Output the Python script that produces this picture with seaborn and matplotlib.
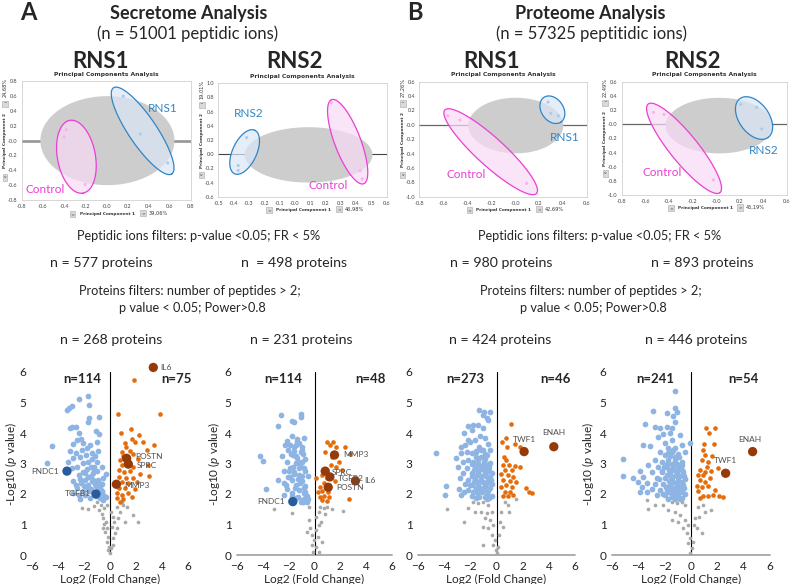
import numpy as np
import pandas as pd
import matplotlib
matplotlib.use('Agg')
import matplotlib.pyplot as plt
import seaborn as sns

sns.set_style('white')
plt.rcParams['font.family'] = ['Lato', 'DejaVu Sans']
plt.rcParams['mathtext.fontset'] = 'custom'
plt.rcParams['mathtext.rm'] = 'Lato'
plt.rcParams['mathtext.it'] = 'Lato:italic'

W, H = 793, 584

# ---------------- PCA data (PC1, PC2) ----------------
a1_pca_case = [(0.16, 0.60), (0.32, 0.09), (0.58, -0.30)]
a1_pca_ctrl = [(-0.38, 0.15), (-0.40, 0.05), (-0.20, -0.59)]
a2_pca_case = [(-0.315, 0.233), (-0.37, -0.16), (-0.37, -0.23)]
a2_pca_ctrl = [(0.238, 0.727), (0.426, -0.233), (0.44, -0.35)]
b1_pca_case = [(0.277, 0.317), (0.299, 0.16), (0.363, 0.127)]
b1_pca_ctrl = [(-0.563, 0.127), (-0.46, 0.067), (0.098, -0.814)]
b2_pca_case = [(0.21, 0.28), (0.345, 0.238), (0.388, -0.068)]
b2_pca_ctrl = [(-0.531, 0.167), (-0.44, 0.139), (-0.022, -0.788)]
pca_variance = [('39,06%', '24,68%'), ('46,98%', '19,01%'), ('42,69%', '27,26%'), ('45,19%', '22,49%')]

# ---------------- volcano data (log2 FC, -log10 p) ----------------
a1_down = [(-1.67, 5.22), (-2.41, 5.10), (-1.62, 4.92), (-2.90, 4.90), (-3.13, 4.83), (-3.28, 4.77),
           (-1.62, 4.50), (-0.82, 4.51), (-1.72, 4.35), (-2.95, 4.20), (-3.08, 4.17), (-2.59, 4.20),
           (-1.08, 4.08), (-0.82, 3.97), (-2.36, 3.99), (-2.23, 3.81), (-2.56, 3.76), (-2.82, 3.65),
           (-4.46, 3.56), (-2.05, 3.66), (-1.54, 3.61), (-1.03, 3.69), (-3.08, 3.41), (-2.62, 3.36),
           (-2.18, 3.45), (-1.41, 3.36), (-0.95, 3.41), (-1.85, 3.28), (-2.31, 3.21), (-1.15, 3.26),
           (-2.82, 3.17), (-1.67, 3.06), (-4.87, 3.01), (-3.26, 3.04), (-2.05, 3.01), (-1.03, 3.06),
           (-1.49, 2.90), (-2.56, 2.87), (-2.90, 2.84), (-1.79, 2.82), (-0.64, 2.90), (-2.05, 2.71),
           (-1.28, 2.68), (-0.97, 2.75), (-0.31, 2.66), (-2.41, 2.62), (-1.67, 2.57), (-0.51, 2.54),
           (-1.92, 2.46), (-1.41, 2.43), (-0.90, 2.46), (-2.82, 2.44), (-2.23, 2.35), (-1.15, 2.33),
           (-0.64, 2.32), (-1.79, 2.24), (-2.56, 2.19), (-1.49, 2.16), (-0.77, 2.19), (-2.05, 2.10),
           (-2.82, 2.02), (-2.36, 1.97), (-1.92, 1.97), (-0.64, 2.02), (-0.31, 1.91), (-0.51, 1.80),
           (-0.77, 1.86), (-1.54, 1.88), (-2.31, 1.84), (-1.30, 2.45), (-1.70, 2.30), (-1.05, 2.25),
           (-1.90, 2.70), (-1.50, 2.60), (-0.85, 2.35), (-1.20, 2.90), (-2.30, 2.50), (-1.60, 2.10),
           (-0.95, 2.10), (-1.35, 3.15), (-1.80, 3.50), (-2.60, 2.30), (-0.60, 2.10), (-1.10, 1.95),
           (-1.25, 2.75), (-2.00, 2.25), (-0.45, 1.95)]
a1_up = [(1.87, 5.75), (0.59, 4.62), (3.85, 4.61), (1.62, 4.12), (0.85, 4.01), (2.23, 3.93),
         (1.67, 3.79), (1.18, 3.68), (1.92, 3.72), (2.56, 3.72), (3.38, 3.61), (1.23, 3.53),
         (2.82, 3.43), (0.92, 3.39), (1.54, 3.41), (1.03, 3.26), (1.79, 3.30), (2.18, 3.14),
         (0.77, 3.11), (0.90, 2.95), (1.79, 2.90), (2.95, 2.95), (0.67, 2.79), (1.08, 2.73),
         (1.54, 2.75), (2.33, 2.64), (2.97, 2.58), (0.72, 2.57), (1.23, 2.51), (1.79, 2.51),
         (0.90, 2.38), (1.41, 2.35), (2.10, 2.40), (0.67, 2.21), (1.15, 2.19), (1.92, 2.16),
         (0.51, 2.02), (0.90, 1.97), (1.41, 2.02), (0.51, 1.86), (1.03, 1.84), (0.77, 1.75),
         (1.67, 1.91)]
a1_ns = [(-2.13, 1.53), (-1.67, 1.51), (-1.23, 1.62), (-0.97, 1.73), (-0.69, 1.64), (-0.82, 1.48),
         (-0.46, 1.53), (-0.64, 1.33), (-0.51, 1.20), (-0.31, 1.09), (-0.46, 1.01), (-0.21, 0.87),
         (-0.38, 0.77), (-0.13, 0.60), (-0.21, 0.44), (-0.05, 0.27), (-0.13, 0.16), (0.00, 0.05),
         (0.05, 0.22), (0.26, 0.33), (0.21, 0.55), (0.38, 0.71), (0.51, 0.87), (0.31, 1.09),
         (0.64, 1.20), (0.77, 1.42), (0.51, 1.58), (1.03, 1.64), (1.28, 1.58), (0.90, 1.75),
         (1.79, 1.31), (2.18, 1.09), (1.15, 1.09), (0.26, 1.26), (-0.56, 0.87), (0.13, 0.93),
         (-0.21, 1.64), (0.05, 1.42)]
a1_genes = [('IL6', 3.33, 6.15), ('POSTN', 1.28, 3.17), ('SPRC', 1.41, 2.98), ('MMP3', 0.49, 2.32),
            ('FNDC1', -3.31, 2.75), ('TGFB1', -1.08, 2.00)]

a2_down = [(-2.63, 4.59), (-2.84, 4.24), (-1.78, 4.39), (-1.57, 4.35), (-1.03, 4.62), (-1.01, 4.54),
           (-1.73, 3.91), (-2.12, 3.74), (-1.34, 3.79), (-0.83, 3.83), (-2.25, 3.61), (-1.86, 3.61),
           (-1.47, 3.61), (-1.21, 3.66), (-0.95, 3.55), (-2.06, 3.44), (-1.60, 3.41), (-1.08, 3.39),
           (-4.23, 3.25), (-3.95, 3.09), (-2.50, 3.26), (-1.68, 3.28), (-1.34, 3.17), (-0.88, 3.30),
           (-2.12, 3.06), (-1.47, 3.01), (-0.95, 3.06), (-1.86, 2.86), (-1.21, 2.84), (-2.37, 2.75),
           (-1.60, 2.71), (-0.70, 2.75), (-2.04, 2.57), (-1.21, 2.62), (-0.49, 2.60), (-2.81, 2.46),
           (-1.73, 2.46), (-0.95, 2.43), (-2.37, 2.35), (-1.47, 2.30), (-0.70, 2.27), (-2.12, 2.16),
           (-1.21, 2.13), (-3.74, 2.16), (-1.73, 2.02), (-0.83, 2.02), (-2.37, 1.97), (-1.41, 1.88),
           (-0.95, 1.80), (-0.57, 1.75), (-1.08, 1.73), (-0.70, 1.86), (-1.30, 2.50), (-1.00, 2.60),
           (-1.50, 2.20), (-0.80, 2.20), (-1.90, 2.55), (-1.65, 2.90), (-1.10, 2.95), (-0.75, 2.05),
           (-1.25, 1.90), (-2.00, 2.75), (-1.45, 3.25), (-1.00, 3.45), (-1.80, 3.30), (-0.60, 1.95),
           (-1.15, 2.35), (-1.55, 2.65), (-0.90, 1.75), (-0.50, 1.85), (-1.35, 3.70), (-2.20, 2.30),
           (-1.75, 1.95), (-0.85, 2.85), (-1.20, 3.05), (-1.60, 3.55), (-0.75, 3.15)]
a2_up = [(0.93, 3.72), (1.42, 3.69), (1.19, 3.61), (1.68, 3.55), (2.35, 3.55), (2.71, 3.31),
         (0.85, 3.37), (1.37, 3.22), (1.88, 3.04), (1.24, 2.95), (1.63, 2.90), (0.72, 2.75),
         (2.14, 2.79), (0.13, 2.51), (0.59, 2.62), (0.98, 2.51), (1.57, 2.43), (0.72, 2.35),
         (0.46, 2.24), (0.98, 2.30), (0.59, 2.10), (1.06, 2.08), (0.72, 1.95), (0.39, 1.91),
         (1.16, 1.91), (0.59, 1.80), (0.98, 1.77), (2.66, 1.84), (0.28, 2.08)]
a2_ns = [(-3.10, 1.50), (-1.78, 1.39), (-0.44, 1.58), (0.46, 1.58), (0.72, 1.53), (0.98, 1.58),
         (1.37, 1.51), (2.19, 1.45), (0.34, 1.42), (0.08, 1.26), (-0.39, 1.15), (0.34, 0.98),
         (-0.31, 0.87), (0.15, 0.82), (-0.18, 0.66), (0.26, 0.60), (-0.05, 0.49), (-0.23, 0.33),
         (0.08, 0.27), (0.34, 0.11), (-0.13, 0.11), (0.59, 0.44), (-0.57, 0.77), (0.49, 1.09),
         (0.85, 1.36)]
a2_genes = [('MMP3', 1.55, 3.28), ('SPRC', 0.83, 2.75), ('TGFB2', 1.19, 2.56), ('IL6', 3.17, 2.43),
            ('POSTN', 1.06, 2.22), ('FNDC1', -1.68, 1.75)]

b1_down = [(-1.32, 4.75), (-0.97, 4.70), (-0.51, 4.68), (-1.07, 4.59), (-0.76, 4.50), (-0.64, 4.43),
           (-2.17, 4.23), (-1.78, 4.26), (-1.40, 4.26), (-2.50, 3.99), (-1.91, 4.10), (-1.02, 4.15),
           (-1.27, 3.90), (-0.89, 3.85), (-2.17, 3.77), (-1.66, 3.77), (-2.73, 3.55), (-2.42, 3.61),
           (-2.04, 3.69), (-0.51, 3.44), (-4.64, 3.33), (-3.06, 3.19), (-2.75, 3.33), (-2.29, 3.39),
           (-1.91, 3.33), (-1.53, 3.37), (-1.15, 3.44), (-0.76, 3.28), (-2.55, 3.06), (-2.17, 3.11),
           (-1.78, 3.06), (-1.40, 3.11), (-0.97, 3.06), (-0.51, 3.01), (-2.93, 2.90), (-2.29, 2.84),
           (-1.66, 2.90), (-1.15, 2.84), (-0.64, 2.84), (-2.55, 2.68), (-1.91, 2.68), (-1.40, 2.68),
           (-0.89, 2.64), (-0.38, 2.68), (-2.80, 2.51), (-2.17, 2.46), (-1.66, 2.49), (-1.15, 2.46),
           (-0.64, 2.46), (-2.42, 2.32), (-1.91, 2.30), (-1.40, 2.32), (-0.89, 2.27), (-0.38, 2.32),
           (-3.87, 2.27), (-2.85, 2.16), (-2.17, 2.13), (-1.66, 2.10), (-1.15, 2.13), (-0.64, 2.10),
           (-3.95, 1.97), (-2.68, 1.97), (-1.91, 1.95), (-1.40, 1.95), (-0.89, 1.91), (-0.38, 1.95),
           (-2.50, 2.08), (-1.53, 1.86), (-0.76, 1.84), (-1.60, 3.20), (-1.20, 3.20), (-0.90, 3.15),
           (-1.45, 3.00), (-1.05, 2.95), (-0.75, 2.95), (-1.70, 2.80), (-1.30, 2.78), (-0.95, 2.80),
           (-0.55, 2.75), (-1.55, 2.60), (-1.20, 2.58), (-0.80, 2.60), (-0.50, 2.55), (-1.75, 2.40),
           (-1.35, 2.38), (-1.00, 2.40), (-0.70, 2.35), (-1.60, 2.20), (-1.25, 2.20), (-0.95, 2.18),
           (-0.50, 2.20), (-1.80, 2.05), (-1.10, 2.05), (-0.75, 2.00), (-1.30, 1.90), (-0.55, 1.88),
           (-1.00, 3.45), (-1.35, 3.55), (-0.65, 3.65), (-1.60, 3.40), (-0.85, 3.30), (-1.20, 2.45),
           (-0.60, 2.90), (-1.90, 2.60), (-2.00, 2.30), (-1.85, 3.00), (-0.45, 2.45), (-1.50, 2.05),
           (-0.85, 2.25)]
b1_up = [(1.10, 4.28), (0.69, 3.85), (0.43, 3.69), (1.45, 3.64), (0.82, 3.55), (1.83, 3.54),
         (0.59, 3.22), (0.76, 3.11), (0.51, 2.95), (0.97, 2.95), (1.40, 2.93), (1.78, 2.90),
         (0.64, 2.79), (1.15, 2.79), (0.38, 2.64), (0.89, 2.62), (1.27, 2.57), (0.51, 2.46),
         (1.02, 2.43), (1.48, 2.38), (0.76, 2.30), (0.38, 2.24), (1.15, 2.24), (2.29, 2.21),
         (0.64, 2.08), (1.02, 2.08), (2.50, 2.08), (2.75, 2.02), (0.51, 1.95), (0.89, 1.95),
         (1.27, 1.97)]
b1_ns = [(-3.82, 1.51), (-2.47, 1.09), (-2.17, 1.53), (-1.78, 1.75), (-1.40, 1.69), (-1.02, 1.75),
         (-0.64, 1.64), (-1.66, 1.42), (-1.15, 1.42), (-0.76, 1.37), (-0.38, 1.42), (-0.89, 1.20),
         (-0.51, 1.15), (-1.07, 0.93), (-0.64, 0.87), (-0.25, 0.98), (-0.38, 0.66), (-0.13, 0.49),
         (-0.25, 0.33), (-0.05, 0.16), (0.13, 0.27), (-1.02, 0.33), (0.25, 1.09), (0.38, 1.42),
         (0.64, 1.75), (0.89, 1.64), (0.46, 0.93), (1.48, 1.84), (0.97, 1.42), (0.20, 0.66),
         (0.05, 0.05)]
b1_genes = [('TWF1', 2.11, 3.39), ('ENAH', 4.38, 3.55)]

b2_down = [(-1.22, 5.39), (-2.91, 4.73), (-1.85, 4.64), (-1.22, 4.81), (-1.09, 4.70), (-1.34, 4.57),
           (-3.49, 4.30), (-2.73, 4.21), (-2.35, 4.15), (-1.85, 4.21), (-1.47, 4.17), (-1.22, 4.37),
           (-2.53, 3.88), (-2.10, 3.96), (-1.59, 3.99), (-0.84, 3.93), (-0.71, 3.61), (-0.10, 3.66),
           (-3.62, 3.61), (-3.11, 3.58), (-1.97, 3.66), (-1.47, 3.77), (-1.72, 3.50), (-1.22, 3.50),
           (-2.35, 3.37), (-1.97, 3.28), (-1.47, 3.37), (-0.96, 3.30), (-0.46, 3.39), (-5.14, 3.14),
           (-2.73, 3.11), (-2.23, 3.06), (-1.72, 3.11), (-1.22, 3.11), (-0.71, 3.06), (-3.29, 2.95),
           (-2.48, 2.90), (-1.85, 2.90), (-1.34, 2.90), (-0.84, 2.90), (-3.87, 2.75), (-2.99, 2.73),
           (-2.23, 2.71), (-1.59, 2.71), (-1.09, 2.71), (-0.58, 2.71), (-5.19, 2.59), (-4.38, 2.54),
           (-3.62, 2.57), (-2.61, 2.54), (-1.97, 2.51), (-1.47, 2.51), (-0.96, 2.51), (-0.46, 2.49),
           (-4.00, 2.40), (-3.37, 2.35), (-2.73, 2.32), (-2.10, 2.32), (-1.59, 2.32), (-1.09, 2.30),
           (-0.58, 2.30), (-3.70, 2.24), (-2.99, 2.16), (-2.35, 2.13), (-1.85, 2.13), (-1.34, 2.13),
           (-0.84, 2.10), (-3.87, 2.05), (-3.37, 2.08), (-2.61, 1.97), (-1.97, 1.97), (-1.47, 1.95),
           (-0.96, 1.95), (-0.46, 1.99), (-1.72, 1.84), (-1.22, 1.84), (-0.66, 1.86), (-1.60, 3.25),
           (-1.25, 3.20), (-0.90, 3.20), (-1.80, 3.00), (-1.45, 3.00), (-1.05, 2.98), (-0.70, 2.95),
           (-1.65, 2.80), (-1.30, 2.80), (-0.95, 2.82), (-0.65, 2.78), (-1.85, 2.62), (-1.50, 2.60),
           (-1.15, 2.62), (-0.80, 2.60), (-1.70, 2.42), (-1.35, 2.40), (-1.00, 2.42), (-0.70, 2.40),
           (-1.90, 2.22), (-1.55, 2.22), (-1.20, 2.20), (-0.85, 2.22), (-1.65, 2.05), (-1.30, 2.03),
           (-1.00, 2.05), (-0.65, 2.05), (-1.45, 1.90), (-1.10, 1.90), (-0.80, 1.85), (-2.20, 2.75),
           (-2.40, 2.50), (-2.05, 2.90), (-1.40, 3.45), (-1.75, 3.35), (-0.55, 2.60), (-2.10, 2.00),
           (-0.50, 2.20)]
b2_up = [(1.14, 4.17), (1.82, 4.17), (1.37, 3.99), (0.99, 3.63), (1.75, 3.63), (0.89, 3.44),
         (1.06, 3.28), (1.62, 3.26), (0.81, 3.11), (1.32, 3.06), (1.19, 2.90), (2.08, 2.86),
         (0.68, 2.79), (1.06, 2.73), (1.52, 2.75), (0.51, 2.62), (0.94, 2.62), (2.46, 2.71),
         (1.44, 2.51), (0.68, 2.46), (1.06, 2.40), (0.43, 2.27), (0.81, 2.24), (1.32, 2.27),
         (1.82, 2.13), (0.56, 2.10), (0.94, 1.95), (1.32, 1.95), (1.70, 1.97), (2.15, 1.93),
         (2.46, 1.91), (0.68, 1.88)]
b2_ns = [(-3.37, 1.80), (-3.24, 1.51), (-2.73, 1.64), (-2.10, 1.64), (-1.72, 1.48), (-1.47, 1.75),
         (-1.09, 1.69), (-0.71, 1.75), (-0.46, 1.64), (-1.22, 1.42), (-0.84, 1.31), (-1.47, 1.15),
         (-0.96, 1.09), (-0.46, 1.15), (-0.58, 0.87), (-0.20, 0.98), (-0.33, 0.71), (-0.08, 0.55),
         (-0.20, 0.38), (0.05, 0.22), (0.18, 0.44), (-0.08, 0.05), (0.30, 1.20), (0.56, 1.58),
         (0.94, 1.64), (1.06, 1.42), (1.52, 1.48), (0.43, 0.87), (0.81, 0.71), (0.25, 0.98),
         (0.63, 1.26)]
b2_genes = [('TWF1', 2.63, 2.68), ('ENAH', 4.68, 3.39)]

# colours
C_DOWN, C_UP, C_NS = '#8DB4E2', '#E46C0A', '#A9A9A9'
C_DOWN_HI, C_UP_HI = '#2A5B9C', '#973A0A'
C_CASE, C_CTRL = '#2E86C8', '#EC3ED4'

fig = plt.figure(figsize=(W / 100, H / 100), dpi=100)


def px_rect(x0, y0, x1, y1):
    return [x0 / W, 1 - y1 / H, (x1 - x0) / W, (y1 - y0) / H]


def ftext(x, y, s, **kw):
    kw.setdefault('ha', 'center')
    kw.setdefault('va', 'center')
    fig.text(x / W, 1 - y / H, s, **kw)


def ellipse(rect, xlim, ylim, cx, cy, a, b, ang):
    # ellipse given in screen pixels, converted back to data units
    sx = rect[2] * W / (xlim[1] - xlim[0])
    sy = rect[3] * H / (ylim[1] - ylim[0])
    t = np.linspace(0, 2 * np.pi, 200)
    th = np.deg2rad(ang)
    px = a * np.cos(t) * np.cos(th) - b * np.sin(t) * np.sin(th)
    py = a * np.cos(t) * np.sin(th) + b * np.sin(t) * np.cos(th)
    return cx + px / sx, cy + py / sy


def pca_panel(rect, xlim, ylim, xticks, yticks, case, ctrl, ells, case_name, case_lab, ctrl_lab,
              variance, line_kw):
    ax = fig.add_axes(rect)
    ax.set_xlim(*xlim)
    ax.set_ylim(*ylim)
    ax.axhline(0, zorder=1, **line_kw)
    grey, e_case, e_ctrl = ells
    ex, ey = ellipse(rect, xlim, ylim, *grey)
    ax.fill(ex, ey, color='#CDCDCD', lw=0, zorder=2)
    ex, ey = ellipse(rect, xlim, ylim, *e_ctrl)
    ax.fill(ex, ey, facecolor='#F9D9F4', alpha=0.7, edgecolor='none', zorder=3)
    ax.plot(ex, ey, color=C_CTRL, lw=0.9, zorder=4)
    ex, ey = ellipse(rect, xlim, ylim, *e_case)
    ax.fill(ex, ey, facecolor='#D9E6F6', alpha=0.7, edgecolor='none', zorder=3)
    ax.plot(ex, ey, color=C_CASE, lw=0.9, zorder=4)

    pts = pd.DataFrame(case + ctrl, columns=['pc1', 'pc2'])
    pts['group'] = [case_name] * len(case) + ['Control'] * len(ctrl)
    sns.scatterplot(data=pts, x='pc1', y='pc2', hue='group',
                    palette={case_name: '#A8CBEE', 'Control': '#F6B3EC'},
                    s=5, linewidth=0, legend=False, ax=ax, zorder=5)
    ax.text(*case_lab, case_name, color=C_CASE, fontsize=8.5, ha='center', va='center', zorder=6)
    ax.text(*ctrl_lab, 'Control', color=C_CTRL, fontsize=8.5, ha='center', va='center', zorder=6)

    ax.set_xticks(xticks)
    ax.set_yticks(yticks)
    ax.set_xticklabels(['%.1f' % v for v in xticks])
    ax.set_yticklabels(['%.1f' % v for v in yticks])
    ax.tick_params(labelsize=4, colors='#444444', length=1.5, width=0.4, pad=1.5)
    for sp in ax.spines.values():
        sp.set_color('#C8C8C8')
        sp.set_linewidth(0.5)
    ax.set_xlabel('')
    ax.set_ylabel('')
    ax.set_title('Principal Components Analysis', fontsize=4.3, fontweight='bold',
                 family='DejaVu Sans', color='#333333', pad=4)
    small = dict(transform=ax.transAxes, family='DejaVu Sans', color='#333333')
    box = dict(boxstyle='square,pad=0.25', fc='#DADADA', ec='#A8A8A8', lw=0.4)
    ax.text(-0.099, 0.50, 'Principal Component 2', rotation=90, fontsize=3.1, fontweight='bold',
            ha='center', va='center', **small)
    ax.text(-0.099, 0.95, variance[1], rotation=90, fontsize=3.6, ha='center', va='center', **small)
    ax.text(-0.099, 0.81, '^', fontsize=3.2, ha='center', va='center', bbox=box, **small)
    ax.text(-0.099, 0.19, 'v', fontsize=3.2, ha='center', va='center', bbox=box, **small)
    ax.text(0.505, -0.118, 'Principal Component 1', fontsize=3.1, fontweight='bold',
            ha='center', va='center', **small)
    ax.text(0.30, -0.118, '<', fontsize=3.2, ha='center', va='center', bbox=box, **small)
    ax.text(0.716, -0.11, '>', fontsize=3.2, ha='center', va='center', bbox=box, **small)
    ax.text(0.75, -0.11, variance[0], fontsize=3.6, ha='left', va='center', **small)
    return ax


def volcano(rect, down, up, ns, genes, n_labels, offsets, ylabel_x=None, base_line=True):
    ax = fig.add_axes(rect)
    ax.set_xlim(-6, 6)
    ax.set_ylim(0, 6)
    frames = []
    for pts, grp in [(ns, 'ns'), (down, 'down'), (up, 'up')]:
        d = pd.DataFrame(pts, columns=['log2fc', 'log10p'])
        d['grp'] = grp
        frames.append(d)
    df = pd.concat(frames, ignore_index=True)
    for grp, color, s in [('ns', C_NS, 7), ('down', C_DOWN, 17), ('up', C_UP, 11)]:
        sns.scatterplot(data=df[df.grp == grp], x='log2fc', y='log10p', color=color, s=s,
                        linewidth=0, ax=ax, zorder=3, clip_on=False)
    gdf = pd.DataFrame(genes, columns=['gene', 'log2fc', 'log10p'])
    gdf['col'] = np.where(gdf.log2fc > 0, C_UP_HI, C_DOWN_HI)
    sns.scatterplot(data=gdf, x='log2fc', y='log10p', hue='gene',
                    palette=dict(zip(gdf.gene, gdf.col)), s=45, linewidth=0,
                    legend=False, ax=ax, zorder=4, clip_on=False)
    for (g, x, y), (dx, dy, ha) in zip(genes, offsets):
        ax.annotate(g, (x, y), xytext=(dx, dy), textcoords='offset points', fontsize=6,
                    color='#505050', ha=ha, va='center', zorder=5, annotation_clip=False)

    ax.axvline(0, color='black', lw=0.8, zorder=2)
    if base_line:
        ax.axhline(0, color='#A6A6A6', lw=1.3, zorder=1, clip_on=False)
    for sp in ax.spines.values():
        sp.set_visible(False)
    ax.set_xticks(range(-6, 7, 2))
    ax.set_yticks(range(0, 7))
    ax.tick_params(length=0, labelsize=8.5, colors='#222222', pad=4)
    ax.set_xlabel('Log2 (Fold Change)', fontsize=8.5, labelpad=2)
    ax.set_ylabel('')
    if ylabel_x is not None:
        ax.text(ylabel_x, 0.5, r'-Log10 ($\mathit{p}$ value)', rotation=90, fontsize=8.5,
                transform=ax.transAxes, ha='center', va='center')
    (lx, ltxt), (rx, rtxt) = n_labels
    ax.text(lx, 5.78, ltxt, fontsize=9.5, fontweight='bold', ha='center', va='center')
    ax.text(rx, 5.78, rtxt, fontsize=9.5, fontweight='bold', ha='center', va='center')
    return ax


# ---------------- headers ----------------
ftext(20, 13, 'A', fontsize=17, fontweight='bold', ha='left')
ftext(189, 13, 'Secretome Analysis', fontsize=13, fontweight='bold')
ftext(188, 34, '(n = 51001 peptidic ions)', fontsize=12)
ftext(100, 62, 'RNS1', fontsize=16, fontweight='bold')
ftext(295, 62, 'RNS2', fontsize=16, fontweight='bold')
ftext(407, 13, 'B', fontsize=17, fontweight='bold', ha='left')
ftext(590, 13, 'Proteome Analysis', fontsize=13, fontweight='bold')
ftext(592, 34, '(n = 57325 peptitidic ions)', fontsize=12)
ftext(492, 62, 'RNS1', fontsize=16, fontweight='bold')
ftext(692, 62, 'RNS2', fontsize=16, fontweight='bold')

# ---------------- PCA panels ----------------
pca_panel(px_rect(21.7, 81.3, 191, 200), (-0.8, 0.8), (-0.8, 0.8),
          np.arange(-0.8, 0.81, 0.2), np.arange(-0.8, 0.81, 0.2), a1_pca_case, a1_pca_ctrl,
          [(0.01, 0.0, 67, 44.5, 0), (0.343, 0.132, 52, 14, -55.9), (-0.283, -0.217, 37, 19, -79.6)],
          'RNS1', (0.53, 0.44), (-0.58, -0.66), pca_variance[0], dict(color='#9A9A9A', lw=2))
pca_panel(px_rect(218.3, 83.3, 386.7, 196.7), (-0.5, 0.6), (-0.6, 1.0),
          np.arange(-0.5, 0.61, 0.1), np.arange(-0.6, 1.01, 0.2), a2_pca_case, a2_pca_ctrl,
          [(0.09, -0.01, 63.8, 27.7, 0), (-0.328, 0.031, 24, 12, 65), (0.345, 0.176, 45, 13, 110.9)],
          'RNS2', (-0.304, 0.576), (0.219, -0.435), pca_variance[1], dict(color='#444444', lw=0.8))
pca_panel(px_rect(419.3, 81.7, 586.7, 196.7), (-0.8, 0.6), (-1.0, 0.6),
          np.arange(-0.8, 0.61, 0.2), np.arange(-1.0, 0.61, 0.2), b1_pca_case, b1_pca_ctrl,
          [(0.007, -0.01, 47.5, 27.8, 0), (0.313, 0.21, 15, 11, -54.8), (-0.203, -0.374, 62, 14, -42.3)],
          'RNS1', (0.419, -0.17), (-0.404, -0.685), pca_variance[2], dict(color='#666666', lw=0.9))
pca_panel(px_rect(621.7, 81.7, 786.7, 195), (-0.8, 0.6), (-1.0, 0.6),
          np.arange(-0.8, 0.61, 0.2), np.arange(-1.0, 0.61, 0.2), b2_pca_case, b2_pca_ctrl,
          [(0.027, -0.02, 53.5, 27.8, 0), (0.323, 0.087, 24, 15, -54), (-0.271, -0.341, 57, 14, -51)],
          'RNS2', (0.402, -0.374), (-0.46, -0.685), pca_variance[3], dict(color='#666666', lw=0.9))

# ---------------- filter text ----------------
for cx, n1, n2, n3, n4, c1, c2 in [(199, 'n = 577 proteins', 'n  = 498 proteins', 'n = 268 proteins',
                                     'n = 231 proteins', (101, 294), (111, 301)),
                                    (600, 'n = 980 proteins', 'n = 893 proteins', 'n = 424 proteins',
                                     'n = 446 proteins', (501, 702), (500, 696))]:
    ftext(cx, 236, 'Peptidic ions filters: p-value <0.05; FR < 5%', fontsize=9.2)
    ftext(c1[0], 263, n1, fontsize=10.2)
    ftext(c1[1], 263, n2, fontsize=10.2)
    ftext(cx - 9, 291, 'Proteins filters: number of peptides > 2;', fontsize=9.2)
    ftext(cx - 7, 308, 'p value < 0.05; Power>0.8', fontsize=9.2)
    ftext(c2[0], 340, n3, fontsize=10.2)
    ftext(c2[1], 340, n4, fontsize=10.2)

# ---------------- volcano plots ----------------
volcano(px_rect(32, 372, 188, 555), a1_down, a1_up, a1_ns, a1_genes,
        [(-2.15, 'n=114'), (5.1, 'n=75')],
        [(5, 0, 'left'), (6, 1, 'left'), (6, -1, 'left'), (6, -1, 'left'), (-6, 0, 'right'), (-4, 0, 'right')],
        ylabel_x=-0.135, base_line=False)
volcano(px_rect(237, 372, 392, 555), a2_down, a2_up, a2_ns, a2_genes,
        [(-2.44, 'n=114'), (4.3, 'n=48')],
        [(6, 0, 'left'), (5, -1, 'left'), (6, -1, 'left'), (6, 0, 'left'), (6, 0, 'left'), (-6, 0, 'right')],
        ylabel_x=-0.15)
volcano(px_rect(418, 372, 575, 555), b1_down, b1_up, b1_ns, b1_genes,
        [(-2.4, 'n=273'), (4.47, 'n=46')],
        [(0, 9, 'center'), (0, 10, 'center')])
volcano(px_rect(612, 372, 770, 555), b2_down, b2_up, b2_ns, b2_genes,
        [(-2.7, 'n=241'), (4.0, 'n=54')],
        [(0, 9, 'center'), (-2, 9, 'center')], ylabel_x=-0.15)

fig.savefig('out.png', dpi=100)
